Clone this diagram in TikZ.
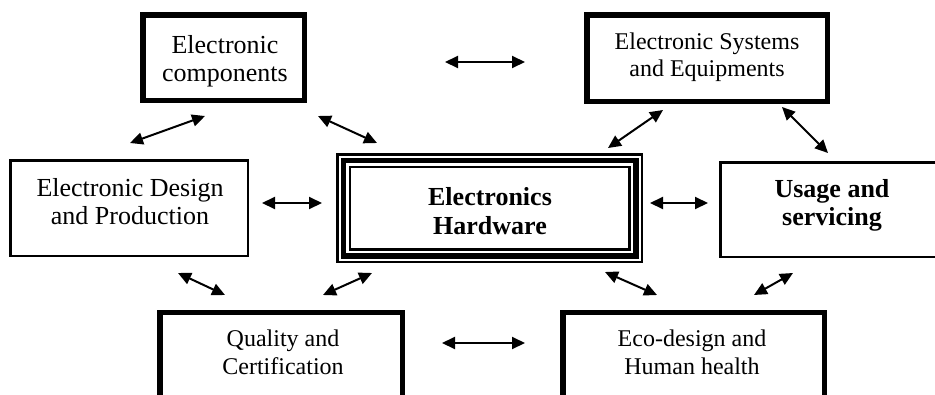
\documentclass[tikz,border=0pt]{standalone}
\usepackage{fontspec}
\setmainfont{Liberation Serif}
\usetikzlibrary{arrows.meta}
\begin{document}
\begin{tikzpicture}[x=1pt,y=-1pt,
  thickbox/.style={draw, line width=5.5pt, rectangle, inner sep=0pt},
  thinbox/.style={draw, line width=2.5pt, rectangle, inner sep=0pt},
  txt/.style={align=center, font=\fontsize{24}{27.5}\selectfont, inner sep=0pt},
  bigtxt/.style={align=center, font=\fontsize{26}{28}\selectfont, inner sep=0pt},
  boldtxt/.style={align=center, font=\fontsize{26}{28.3}\selectfont\bfseries, inner sep=0pt},
  link/.style={line width=2pt, {Triangle[length=13pt,width=12pt]}-{Triangle[length=13pt,width=12pt]}}]
\useasboundingbox (0,0) rectangle (935,394);
\begin{scope}
\clip (0,0) rectangle (935,394);
% boxes
\node[thickbox, minimum width=161.5pt, minimum height=85.5pt] (comp) at (223.5,57.5) {};
\node[thickbox, minimum width=240.5pt, minimum height=86.5pt] (sys) at (707,58) {};
\node[thinbox, minimum width=237.5pt, minimum height=95.5pt] (des) at (129,208) {};
\node[thinbox, minimum width=223.5pt, minimum height=94.5pt] (use) at (832,209.5) {};
\node[thickbox, minimum width=242.5pt, minimum height=215pt] (qual) at (281,420) {};
\node[thickbox, minimum width=261.5pt, minimum height=215pt] (eco) at (693.5,420) {};
% centre triple frame
\node[thinbox, minimum width=304.5pt, minimum height=107.5pt] (hwout) at (489.5,208) {};
\node[thickbox, minimum width=292.5pt, minimum height=95.5pt] (hwmid) at (489.5,208) {};
\node[thinbox, minimum width=279.5pt, minimum height=82.5pt] (hwin) at (489.5,208) {};
% texts
\node[bigtxt] (tcomp) at (225,61) {Electronic\\components};
\node[txt] (tsys) at (707,57.4) {Electronic Systems\\and Equipments};
\node[bigtxt] (tdes) at (130,201.4) {Electronic Design\\and Production};
\node[boldtxt] (thw) at (490,211) {Electronics\\Hardware};
\node[boldtxt] (tuse) at (832,205.2) {Usage and\\servicing};
\node[txt] (tqual) at (283,352.4) {Quality and\\Certification};
\node[txt] (teco) at (692,352.4) {Eco-design and\\Human health};
\end{scope}
% arrow end points
\coordinate (a1s) at (445,62);  \coordinate (a1e) at (525,62);
\coordinate (a2s) at (130,143); \coordinate (a2e) at (205,116);
\coordinate (a3s) at (318,116); \coordinate (a3e) at (377,143);
\coordinate (a4s) at (608,148); \coordinate (a4e) at (663,110);
\coordinate (a5s) at (782,107); \coordinate (a5e) at (828,153);
\coordinate (a6s) at (262,203); \coordinate (a6e) at (322,203);
\coordinate (a7s) at (650,203); \coordinate (a7e) at (708,203);
\coordinate (a8s) at (178,273); \coordinate (a8e) at (225,295);
\coordinate (a9s) at (323,295); \coordinate (a9e) at (372,273);
\coordinate (a10s) at (605,272); \coordinate (a10e) at (657,295);
\coordinate (a11s) at (754,295); \coordinate (a11e) at (793,273);
\coordinate (a12s) at (442,343); \coordinate (a12e) at (525,343);
\foreach \i in {1,...,12} {\draw[link] (a\i s) -- (a\i e);}
\end{tikzpicture}
\end{document}
